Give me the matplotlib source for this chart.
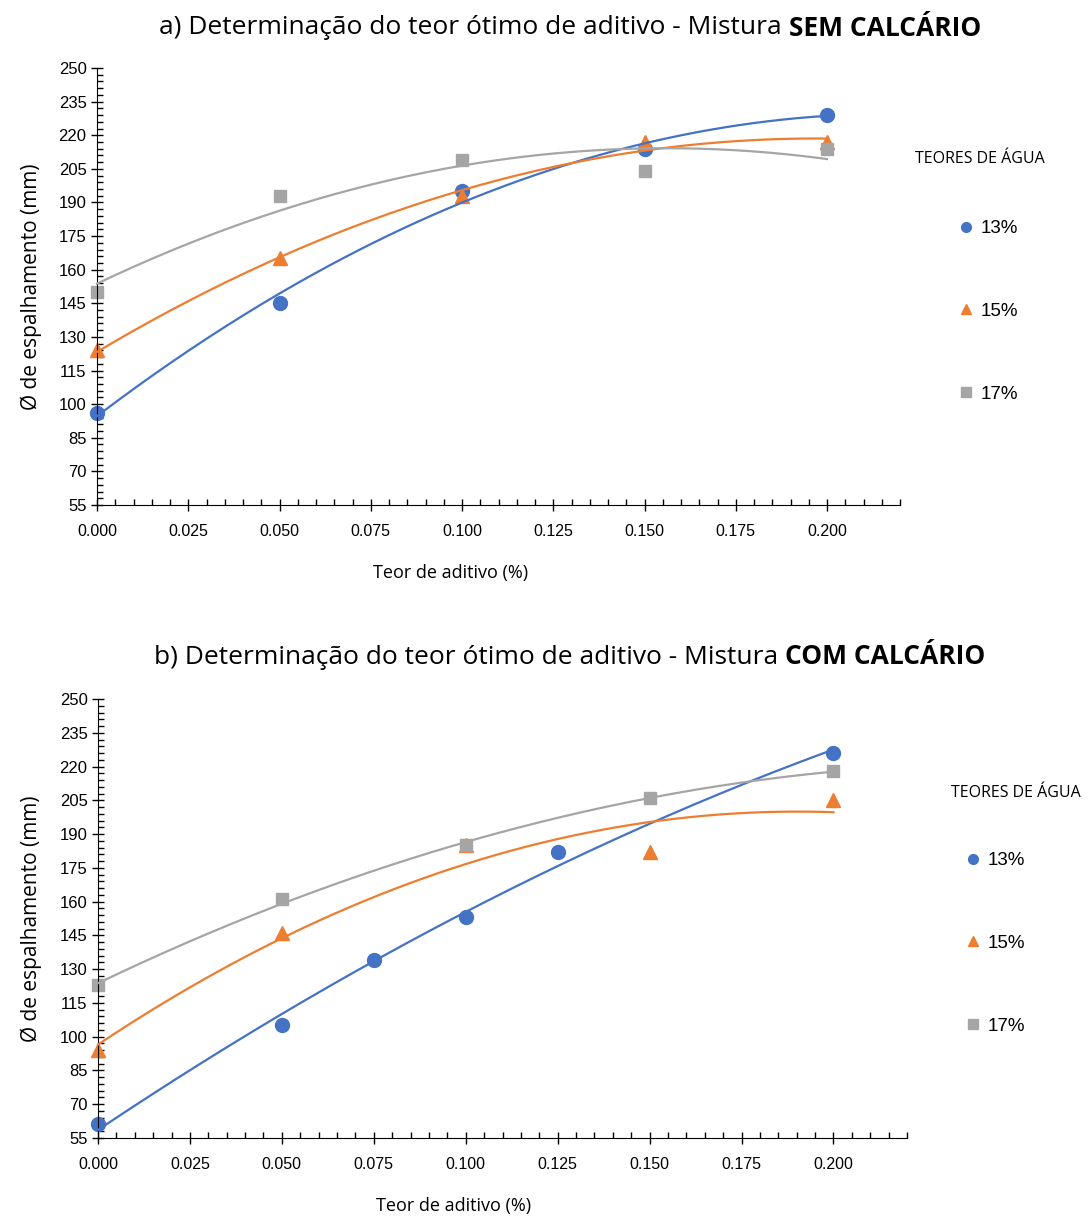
import matplotlib.pyplot as plt
import numpy as np
from matplotlib.ticker import FormatStrFormatter
from matplotlib.lines import Line2D

# a) sem calcário
x_top = [0.0, 0.05, 0.1, 0.15, 0.2]
top_13 = [96, 145, 195, 214, 229]
top_15 = [124, 165, 193, 217, 217]
top_17 = [150, 193, 209, 204, 214]

# b) com calcário
x_bot_13 = [0.0, 0.05, 0.075, 0.1, 0.125, 0.2]
bot_13 = [61, 105, 134, 153, 182, 226]
x_bot = [0.0, 0.05, 0.1, 0.15, 0.2]
bot_15 = [94, 146, 185, 182, 205]
bot_17 = [123, 161, 185, 206, 218]

labels = ['13%', '15%', '17%']
colors = ['#4472C4', '#ED7D31', '#A5A5A5']
markers = ['o', '^', 's']
msizes = [10, 10, 9]

fig = plt.figure(figsize=(10.91, 12.19), dpi=100)


def draw_panel(rect, series, title_reg, title_bold, title_y, xlabel_x, leg_title_xy, leg_xy):
    ax = fig.add_axes(rect)
    for (xs, ys), c, m, ms in zip(series, colors, markers, msizes):
        xs = np.array(xs)
        ys = np.array(ys)
        ax.plot(xs, ys, linestyle='none', marker=m, color=c, markersize=ms, zorder=2, clip_on=False)
        # polynomial (order 2) trendline, as in the original spreadsheet
        coef = np.polyfit(xs, ys, 2)
        xx = np.linspace(0, 0.2, 200)
        ax.plot(xx, np.polyval(coef, xx), color=c, lw=1.6, zorder=3, clip_on=False)

    ax.set_xlim(0, 0.22)
    ax.set_ylim(55, 250)
    ax.set_xticks(np.arange(0, 0.2001, 0.025))
    ax.set_xticks(np.arange(0, 0.2201, 0.005), minor=True)
    ax.set_yticks(np.arange(55, 251, 15))
    ax.set_yticks(np.arange(55, 251, 3), minor=True)
    ax.xaxis.set_major_formatter(FormatStrFormatter('%.3f'))
    ax.tick_params(which='major', direction='inout', length=8, width=1, color='black')
    ax.tick_params(which='minor', direction='in', length=4, width=1, color='black')
    ax.tick_params(axis='x', which='major', pad=10)
    for lab in ax.get_xticklabels():
        lab.set_fontfamily('Liberation Sans')
        lab.set_fontsize(11.5)
    for lab in ax.get_yticklabels():
        lab.set_fontfamily('Liberation Sans')
        lab.set_fontsize(12)
    for s in ['top', 'right']:
        ax.spines[s].set_visible(False)

    x0, y0, w, h = rect
    fig.text(0.029, y0 + h * 0.5, 'Ø de espalhamento (mm)', rotation=90, ha='center', va='center',
             fontsize=15, family='Open Sans')
    fig.text(xlabel_x, y0 - 0.056, 'Teor de aditivo (%)', ha='center', va='center',
             fontsize=13, family='Open Sans')

    # title: regular part + bold part, centred as a whole
    t1 = fig.text(0.5, title_y, title_reg, ha='right', va='center', fontsize=19, family='Open Sans')
    t2 = fig.text(0.5, title_y, title_bold, ha='left', va='center', fontsize=19, family='Open Sans',
                  fontweight='bold')
    fig.canvas.draw()
    r = fig.canvas.get_renderer()
    w1 = t1.get_window_extent(r).width / fig.bbox.width
    w2 = t2.get_window_extent(r).width / fig.bbox.width
    center = 570 / 1091
    split = center - (w1 + w2) / 2 + w1
    t1.set_x(split)
    t2.set_x(split)

    fig.text(leg_title_xy[0], leg_title_xy[1], 'TEORES DE ÁGUA', ha='left', va='center',
             fontsize=11.5, family='Open Sans')
    handles = [Line2D([], [], linestyle='none', marker=m, color=c, markersize=7)
               for m, c in zip(markers, colors)]
    ax.legend(handles, labels, loc='upper left', bbox_to_anchor=leg_xy,
              bbox_transform=fig.transFigure, frameon=False,
              labelspacing=3.5, handlelength=0.6, handletextpad=0.5,
              borderpad=0, borderaxespad=0, prop={'family': 'Liberation Sans', 'size': 13.5})
    return ax


draw_panel([97 / 1091, 1 - 505 / 1219, 803 / 1091, 437 / 1219],
           [(x_top, top_13), (x_top, top_15), (x_top, top_17)],
           'a) Determinação do teor ótimo de aditivo - Mistura ', 'SEM CALCÁRIO',
           1 - 28 / 1219, 451 / 1091, (915 / 1091, 1 - 159 / 1219), (960 / 1091, 1 - 220 / 1219))

draw_panel([98 / 1091, 1 - 1138 / 1219, 809 / 1091, 439 / 1219],
           [(x_bot_13, bot_13), (x_bot, bot_15), (x_bot, bot_17)],
           'b) Determinação do teor ótimo de aditivo - Mistura ', 'COM CALCÁRIO',
           1 - 657 / 1219, 454 / 1091, (951 / 1091, 1 - 793 / 1219), (967 / 1091, 1 - 852 / 1219))

fig.savefig('out.png', dpi=100)
